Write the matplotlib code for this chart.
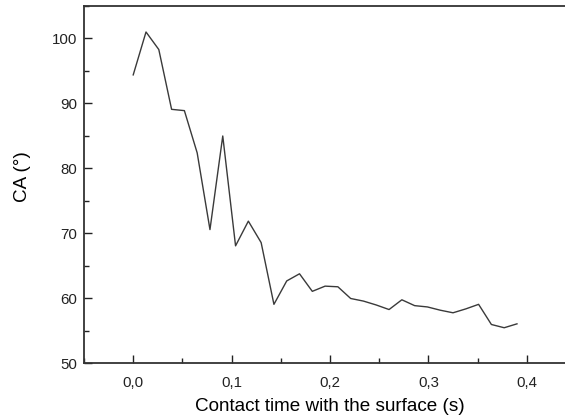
import matplotlib
matplotlib.use("Agg")
import matplotlib.pyplot as plt
from matplotlib.ticker import MultipleLocator, FuncFormatter

plt.rcParams['font.family'] = ['Liberation Sans', 'DejaVu Sans']

# Contact time (s) and contact angle (degrees)
time_s = [0.000, 0.013, 0.026, 0.039, 0.052, 0.065, 0.078, 0.091, 0.104, 0.117,
          0.130, 0.143, 0.156, 0.169, 0.182, 0.195, 0.208, 0.221, 0.234, 0.247,
          0.260, 0.273, 0.286, 0.299, 0.312, 0.325, 0.338, 0.351, 0.364, 0.377,
          0.390]
contact_angle = [94.4, 101.0, 98.3, 89.1, 88.9, 82.4, 70.6, 85.0, 68.1, 71.9,
                 68.6, 59.1, 62.7, 63.8, 61.1, 61.9, 61.8, 60.0, 59.6, 59.0,
                 58.3, 59.8, 58.9, 58.7, 58.2, 57.8, 58.4, 59.1, 56.0, 55.5,
                 56.1]

fig = plt.figure(figsize=(5.65, 4.18), dpi=100)
ax = fig.add_axes([0.1487, 0.1304, 0.8708, 0.8553])

ax.plot(time_s, contact_angle, color='#3a3a3a', linewidth=1.0)

ax.set_xlim(-0.05, 0.45)
ax.set_ylim(50, 105)

ax.xaxis.set_major_locator(MultipleLocator(0.1))
ax.xaxis.set_minor_locator(MultipleLocator(0.05))
ax.yaxis.set_major_locator(MultipleLocator(10))
ax.yaxis.set_minor_locator(MultipleLocator(5))
ax.xaxis.set_major_formatter(FuncFormatter(lambda v, p: f"{v:.1f}".replace('.', ',').replace('-0,0', '0,0')))

ax.tick_params(which='both', direction='in', top=False, right=False, colors='#222222')
ax.tick_params(which='major', length=6, width=1.0, labelsize=10.8)
ax.tick_params(which='minor', length=3.5, width=1.0)
ax.tick_params(axis='x', which='major', pad=9)
ax.tick_params(axis='y', which='major', pad=5)
for s in ax.spines.values():
    s.set_linewidth(1.3)
    s.set_color('#333333')

ax.set_xlabel('Contact time with the surface (s)', fontsize=13.6, labelpad=6)
ax.set_ylabel('CA (°)', fontsize=13.6)
ax.yaxis.set_label_coords(-0.108, 0.522)

fig.savefig('out.png', dpi=100)
